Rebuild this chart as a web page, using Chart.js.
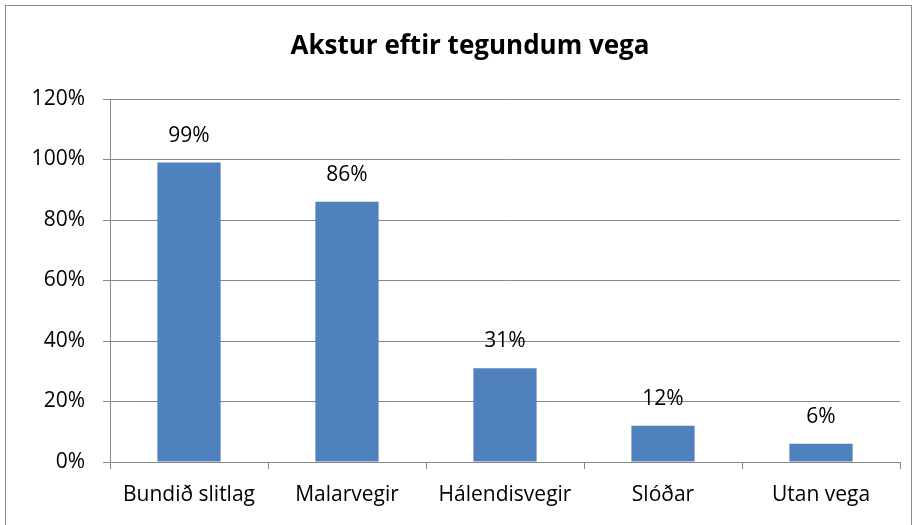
<!DOCTYPE html>
<html>
<head>
<meta charset="utf-8">
<script src="https://cdn.jsdelivr.net/npm/chart.js@4"></script>
<style>
  body { margin: 0; background: #fff; }
  #wrap { position: relative; width: 918px; height: 525px; }
  #frame { position: absolute; left: 5px; top: 5px; width: 907px; height: 530px; border: 1px solid #8c8c8c; box-sizing: border-box; pointer-events: none; }
</style>
</head>
<body>
<div id="wrap">
  <canvas id="myChart" width="918" height="525"></canvas>
  <div id="frame"></div>
</div>
<script>
var categories = ["Bundið slitlag", "Malarvegir", "Hálendisvegir", "Slóðar", "Utan vega"];
var values = [99, 86, 31, 12, 6];
var yTicks = [0, 20, 40, 60, 80, 100, 120];
var chartTitle = "Akstur eftir tegundum vega";

var fontFamily = "'Open Sans', 'Liberation Sans', sans-serif";
var gridColor = '#898989';

// titill og gildismerki
var labelPlugin = {
  id: 'labels',
  afterDatasetsDraw: function (chart) {
    var ctx = chart.ctx;
    ctx.save();
    ctx.fillStyle = '#000';
    ctx.font = 'bold 26px ' + fontFamily;
    ctx.textAlign = 'center';
    ctx.textBaseline = 'middle';
    ctx.fillText(chartTitle, 470, 47);

    ctx.font = '21px ' + fontFamily;
    var meta = chart.getDatasetMeta(0);
    meta.data.forEach(function (bar, i) {
      ctx.fillText(values[i] + '%', bar.x, bar.y - 27);
    });
    ctx.restore();
  }
};

var ctx = document.getElementById("myChart").getContext("2d");
var myChart = new Chart(ctx, {
  type: 'bar',
  data: {
    labels: categories,
    datasets: [{
      data: values,
      backgroundColor: '#4F81BD',
      borderWidth: 0,
      categoryPercentage: 0.4,
      barPercentage: 1
    }]
  },
  options: {
    responsive: false,
    animation: false,
    layout: { padding: { top: 99, right: 18, left: 0, bottom: 0 } },
    plugins: {
      legend: { display: false },
      title: { display: false },
      tooltip: { enabled: false }
    },
    scales: {
      y: {
        min: 0,
        max: 120,
        afterFit: function (s) { s.width = 110; },
        afterBuildTicks: function (s) { s.ticks = yTicks.map(function (v) { return { value: v }; }); },
        border: { color: gridColor, width: 1 },
        grid: { color: gridColor, lineWidth: 1, tickLength: 7 },
        ticks: {
          padding: 18,
          color: '#000',
          font: { family: fontFamily, size: 21 },
          callback: function (v) { return v + '%'; }
        }
      },
      x: {
        afterFit: function (s) { s.height = 63; },
        border: { color: gridColor, width: 1 },
        grid: { offset: true, drawOnChartArea: false, color: gridColor, tickLength: 7 },
        ticks: {
          padding: 13,
          color: '#000',
          maxRotation: 0,
          font: { family: fontFamily, size: 21 }
        }
      }
    }
  },
  plugins: [labelPlugin]
});
</script>
</body>
</html>
